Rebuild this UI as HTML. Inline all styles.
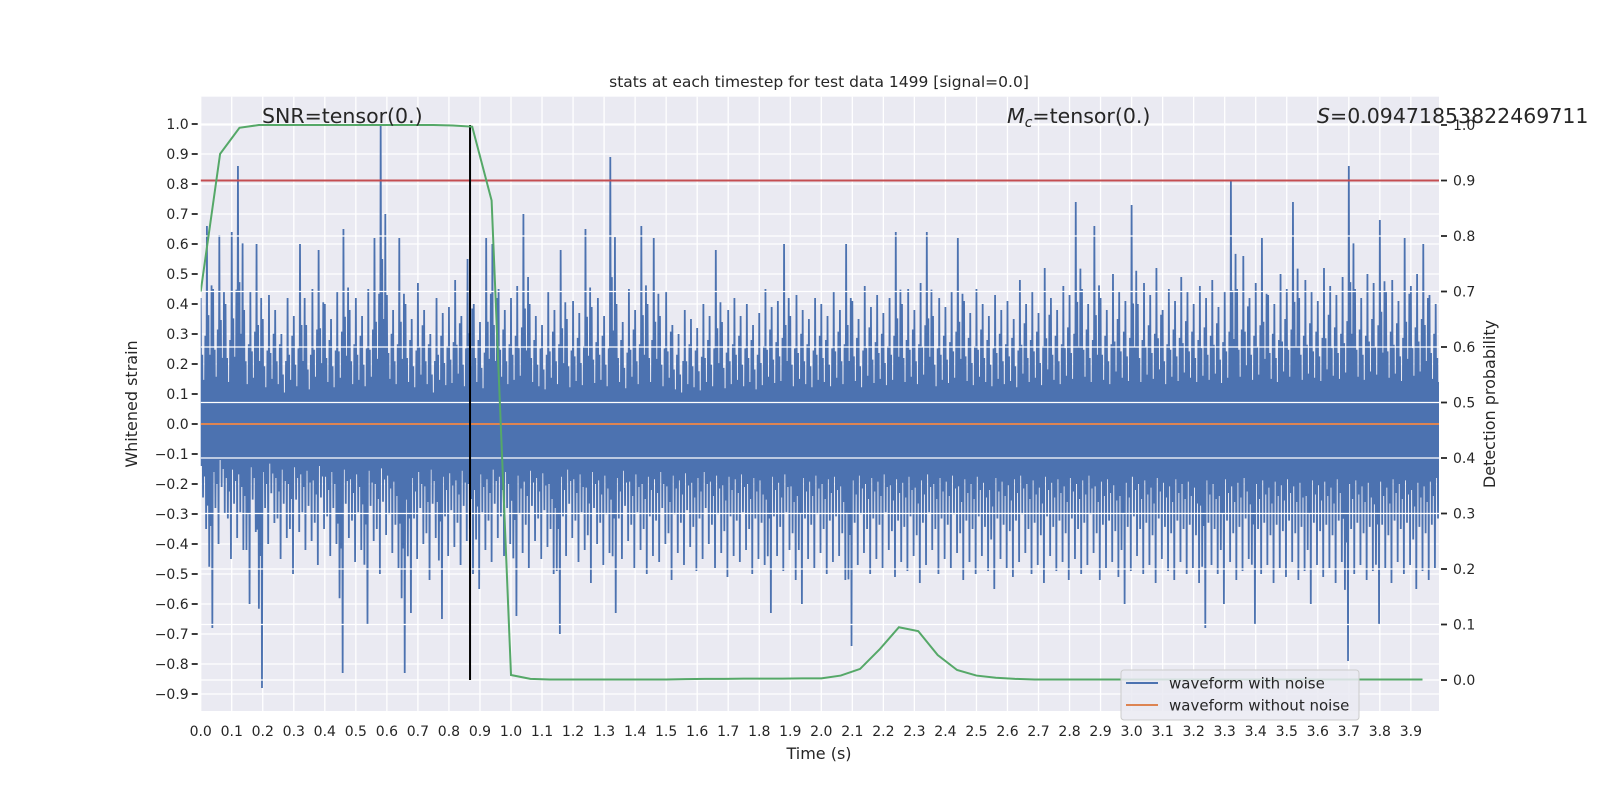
<!DOCTYPE html>
<html><head><meta charset="utf-8">
<style>
html,body{margin:0;padding:0;background:#fff;}
svg text{font-family:"DejaVu Sans","Liberation Sans",sans-serif;fill:#262626;}
</style></head>
<body>
<svg id="chart" width="1600" height="800" viewBox="0 0 1600 800" xmlns="http://www.w3.org/2000/svg">
<defs><clipPath id="pc"><rect x="200.7" y="96.7" width="1238.3" height="614.3"/></clipPath></defs>
<rect x="200.7" y="96.7" width="1238.3" height="614.3" fill="#eaeaf2"/>
<g id="gridL"></g>
<g id="series" clip-path="url(#pc)"></g>
<g id="gridR" clip-path="url(#pc)"></g>
<g id="series2" clip-path="url(#pc)"></g>
<g id="axes"></g>
<text x="819" y="87" font-size="15.5" text-anchor="middle">stats at each timestep for test data 1499 [signal=0.0]</text>
<text x="819" y="759" font-size="16" text-anchor="middle">Time (s)</text>
<text transform="translate(137,404) rotate(-90)" font-size="16" text-anchor="middle">Whitened strain</text>
<text transform="translate(1495,404) rotate(-90)" font-size="16" text-anchor="middle">Detection probability</text>
<text x="262" y="123" font-size="20.5">SNR=tensor(0.)</text>
<text x="1007" y="123" font-size="20.5"><tspan font-style="italic">M</tspan><tspan font-style="italic" font-size="14" dy="4">c</tspan><tspan dy="-4">=tensor(0.)</tspan></text>
<text x="1317" y="123" font-size="20.5"><tspan font-style="italic">S</tspan>=0.09471853822469711</text>
<g>
<rect x="1121" y="670" width="238" height="50" rx="3" fill="#eaeaf2" fill-opacity="0.85" stroke="#cccccc" stroke-width="1"/>
<line x1="1126" y1="683" x2="1158" y2="683" stroke="#4c72b0" stroke-width="2"/>
<text x="1169" y="688.5" font-size="15">waveform with noise</text>
<line x1="1126" y1="705" x2="1158" y2="705" stroke="#dd8452" stroke-width="2"/>
<text x="1169" y="710.5" font-size="15">waveform without noise</text>
</g>
</svg>
<script>
const binWidth = 0.02;
const noiseHigh = [
.42,.66,.45,.63,.40,.64,.86,.38,.44,.60,
.35,.43,.38,.30,.42,.36,.60,.33,.45,.58,
.40,.35,.44,.65,.38,.42,.36,.45,.62,1.0,
.43,.38,.62,.40,.35,.47,.38,.30,.42,.37,
.39,.48,.36,.55,.40,.34,.62,.60,.45,.38,
.42,.46,.70,.40,.36,.33,.44,.38,.58,.35,
.41,.37,.65,.39,.42,.36,.89,.40,.34,.45,
.38,.66,.40,.62,.36,.44,.33,.30,.38,.35,
.32,.40,.36,.58,.34,.38,.42,.36,.40,.33,
.37,.45,.39,.41,.60,.36,.43,.38,.35,.42,
.40,.36,.44,.38,.60,.41,.35,.46,.39,.43,
.37,.42,.64,.40,.45,.38,.47,.64,.36,.42,
.39,.44,.62,.41,.37,.45,.40,.36,.43,.38,
.41,.35,.48,.40,.44,.37,.52,.42,.38,.46,
.43,.74,.45,.40,.66,.42,.38,.50,.44,.41,
.73,.40,.47,.43,.52,.38,.45,.41,.49,.44,
.40,.46,.42,.48,.39,.44,.81,.45,.56,.42,
.47,.62,.43,.40,.50,.45,.74,.42,.48,.44,
.41,.52,.46,.43,.49,.86,.45,.42,.50,.47,
.68,.44,.48,.41,.62,.46,.50,.60,.43,.40];
const noiseLow = [
-.35,-.68,-.40,-.30,-.45,-.38,-.42,-.60,-.36,-.88,
-.40,-.33,-.45,-.38,-.50,-.36,-.42,-.39,-.47,-.35,
-.44,-.40,-.83,-.38,-.46,-.42,-.67,-.39,-.50,-.37,
-.43,-.48,-.83,-.63,-.45,-.40,-.52,-.38,-.65,-.44,
-.41,-.47,-.39,-.50,-.55,-.42,-.46,-.38,-.44,-.40,
-.64,-.43,-.48,-.39,-.45,-.41,-.50,-.70,-.44,-.38,
-.46,-.42,-.53,-.40,-.47,-.43,-.63,-.45,-.39,-.48,
-.42,-.50,-.44,-.46,-.40,-.52,-.43,-.47,-.41,-.49,
-.45,-.40,-.48,-.43,-.51,-.44,-.46,-.42,-.50,-.45,
-.47,-.63,-.44,-.49,-.42,-.52,-.60,-.45,-.48,-.43,
-.50,-.46,-.44,-.52,-.74,-.47,-.43,-.50,-.45,-.48,
-.42,-.51,-.46,-.49,-.44,-.53,-.47,-.42,-.50,-.45,
-.48,-.43,-.52,-.46,-.50,-.44,-.49,-.55,-.45,-.48,
-.51,-.46,-.43,-.50,-.47,-.53,-.44,-.49,-.46,-.52,
-.45,-.50,-.47,-.43,-.52,-.48,-.46,-.51,-.60,-.49,
-.44,-.50,-.47,-.53,-.45,-.49,-.52,-.46,-.50,-.48,
-.53,-.68,-.47,-.50,-.60,-.46,-.52,-.49,-.45,-.67,
-.50,-.47,-.53,-.48,-.51,-.46,-.52,-.49,-.60,-.47,
-.51,-.48,-.53,-.46,-.79,-.50,-.47,-.52,-.49,-.67,
-.48,-.53,-.46,-.50,-.47,-.55,-.49,-.52,-.48,-.45];
const probStep = 0.0625;
const probValues = [0.70,0.948,0.995,1.0,1.0,1.0,1.0,1.0,1.0,1.0,1.0,1.0,1.0,0.999,0.997,0.864,0.009,0.002,
0.001,0.001,0.001,0.001,0.001,0.001,0.001,0.0015,0.002,0.002,0.0025,0.0025,0.0025,0.003,0.003,0.008,0.02,0.055,0.095,0.088,0.045,0.018,0.008,0.004,0.002,
0.001,0.001,0.001,0.001,0.001,0.001,0.001,0.001,0.001,0.001,0.001,0.001,0.001,0.001,0.001,0.001,0.001,0.001,0.001,0.001,0.001];
const thresholdValue = 0.9;
const peakTime = 0.868;
const cleanValue = 0.0;
const xTicks = ["0.0","0.1","0.2","0.3","0.4","0.5","0.6","0.7","0.8","0.9","1.0","1.1","1.2","1.3","1.4","1.5","1.6","1.7","1.8","1.9","2.0","2.1","2.2","2.3","2.4","2.5","2.6","2.7","2.8","2.9","3.0","3.1","3.2","3.3","3.4","3.5","3.6","3.7","3.8","3.9"];
const yTicksLeft = ["-0.9","-0.8","-0.7","-0.6","-0.5","-0.4","-0.3","-0.2","-0.1","0.0","0.1","0.2","0.3","0.4","0.5","0.6","0.7","0.8","0.9","1.0"];
const yTicksRight = ["0.0","0.1","0.2","0.3","0.4","0.5","0.6","0.7","0.8","0.9","1.0"];

const NS="http://www.w3.org/2000/svg";
const L=200.7,R=1439,T=96.7,B=711;
const X=t=>L+t*310.3;
const YL=v=>424-v*300;
const YR=p=>680-p*555;
function mk(tag,attrs,parent){const e=document.createElementNS(NS,tag);for(const k in attrs)e.setAttribute(k,attrs[k]);parent.appendChild(e);return e;}
const gL=document.getElementById('gridL'),gR=document.getElementById('gridR'),ser=document.getElementById('series'),ser2=document.getElementById('series2'),ax=document.getElementById('axes');

xTicks.forEach(s=>{const t=parseFloat(s),x=X(t);
 const g=mk('line',{x1:x,x2:x,y1:T,y2:B,stroke:'#fff','stroke-width':1.3},gL);
 
 
 const tx=mk('text',{x:x,y:736,'font-size':14,'text-anchor':'middle'},ax);tx.textContent=s;
 
 
});
yTicksLeft.forEach(s=>{const v=parseFloat(s),y=YL(v);
 const g=mk('line',{x1:L,x2:R,y1:y,y2:y,stroke:'#fff','stroke-width':1.3},gL);
 
 
 const tk=mk('line',{x1:L-9,x2:L-3,y1:y,y2:y,stroke:'#262626','stroke-width':1.8},ax);
 
 
 const tx=mk('text',{x:L-12,y:y+5,'font-size':14,'text-anchor':'end'},ax);tx.textContent=s.replace('-','\u2212');
 
 
});
yTicksRight.forEach(s=>{const p=parseFloat(s),y=YR(p);
 const g=mk('line',{x1:L,x2:R,y1:y,y2:y,stroke:'#fff','stroke-width':1.3},gR);
 
 
 const tk=mk('line',{x1:R+2,x2:R+8,y1:y,y2:y,stroke:'#262626','stroke-width':1.8},ax);
 
 
 const tx=mk('text',{x:R+14,y:y+5,'font-size':14},ax);tx.textContent=s;
 
 
});

const subFrac=[1,-0.4,0.55,-0.7,0.35,-0.5,0.7,-1];
let pts=[];
noiseHigh.forEach((h,i)=>{const lo=noiseLow[i];const t0=i*binWidth;
 subFrac.forEach((f,k)=>{const v=f>0?h*f:lo*(-f);
  pts.push(X(t0+binWidth*k/subFrac.length).toFixed(2)+','+YL(v).toFixed(2));});
});
const noise=mk('polyline',{points:pts.join(' '),fill:'none',stroke:'#4c72b0','stroke-width':1.8},ser);


const clean=mk('line',{x1:L,x2:R,y1:YL(cleanValue),y2:YL(cleanValue),stroke:'#dd8452','stroke-width':2},ser);



const th=mk('line',{x1:L,x2:R,y1:YR(thresholdValue),y2:YR(thresholdValue),stroke:'#c44e52','stroke-width':2},ser2);


const pk=mk('line',{x1:X(peakTime),x2:X(peakTime),y1:YR(1),y2:YR(0),stroke:'#000','stroke-width':2},ser2);


const gp=probValues.map((p,i)=>X(i*probStep)+','+YR(p)).join(' ');
const prob=mk('polyline',{points:gp,fill:'none',stroke:'#55a868','stroke-width':2},ser2);


</script>
</body></html>
